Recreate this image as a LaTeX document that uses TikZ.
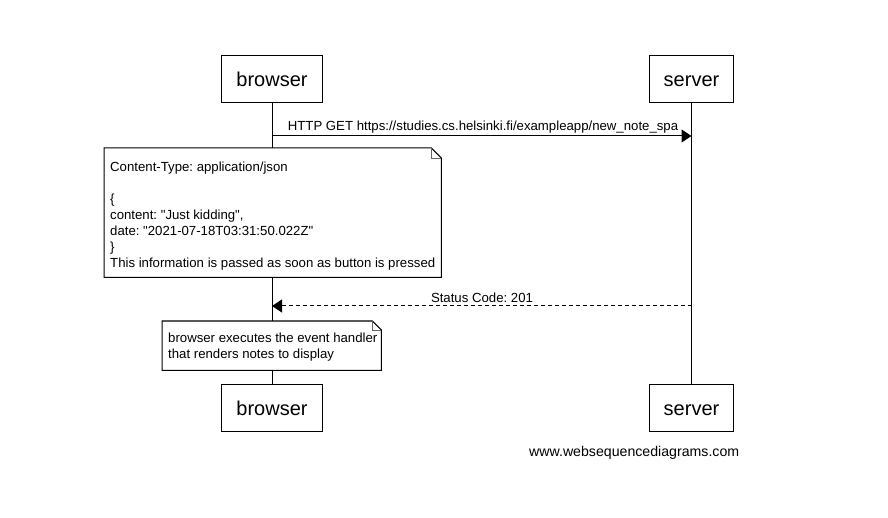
\documentclass[tikz,border=0pt]{standalone}
\usepackage{fontspec}
\setmainfont{Liberation Sans}
\usetikzlibrary{arrows.meta}
\frenchspacing
\begin{document}
\begin{tikzpicture}[x=1pt,y=-1pt,
  actor/.style={draw, line width=1pt, minimum width=0pt, minimum height=47pt,
    inner xsep=14.5pt, inner ysep=0pt, text height=14.5pt, text depth=0pt,
    font=\fontsize{20}{24}\selectfont},
  life/.style={line width=1pt},
  msg/.style={line width=1pt, -{Triangle[length=10pt,width=13pt]}},
  reply/.style={msg, dash pattern=on 4pt off 3pt},
  lbl/.style={anchor=base, inner sep=0pt, font=\fontsize{13.2}{16}\selectfont},
  notebox/.style={fill=white, draw=none, anchor=north west, inner sep=0pt},
  noteline/.style={line width=1pt, line join=miter},
  notetext/.style={anchor=base west, inner sep=0pt, align=left,
    font=\fontsize{13.2}{16}\selectfont},
  wmark/.style={anchor=base west, inner sep=0pt, font=\fontsize{14.15}{17}\selectfont}
]
\useasboundingbox (0,0) rectangle (888,518);
\fill[white] (0,0) rectangle (888,518);

% actors
\node[actor] (bt) at (272,79.5) {browser};
\node[actor] (st) at (691.5,79.5) {server};
\node[actor] (bb) at (272,408) {browser};
\node[actor] (sb) at (691.5,408) {server};

% lifelines
\draw[life] (bt) -- (bb);
\draw[life] (st) -- (sb);

% message 1
\coordinate (y1) at (0,136);
\draw[msg] (bt |- y1) -- (st |- y1);
\node[lbl] (l1) at (483,131) {HTTP GET https://studies.cs.helsinki.fi/exampleapp/new\_note\_spa};

% note 1
\node[notebox, minimum width=337pt, minimum height=129pt] (n1) at (104,148) {};
\draw[noteline] (n1.north west) -- ([xshift=-10pt]n1.north east) -- ([yshift=-10pt]n1.north east)
  -- (n1.south east) -- (n1.south west) -- cycle;
\draw[line width=0.8pt, draw=black!60] ([xshift=-10pt]n1.north east) -- ([xshift=-10pt,yshift=-10pt]n1.north east) -- ([yshift=-10pt]n1.north east);
\node[notetext] (n1t) at (110,171.5) {\vtop{\hbox{Content-Type: application/json}\hbox{}\hbox{\{}\hbox{content: \textquotedbl Just kidding\textquotedbl,}\hbox{date: \textquotedbl 2021-07-18T03:31:50.022Z\textquotedbl}\hbox{\}}\hbox{This information is passed as soon as button is pressed}}};

% message 2
\coordinate (y2) at (0,306);
\draw[reply] (st |- y2) -- (bt |- y2);
\node[lbl] (l2) at (482,303) {Status Code: 201};

% note 2
\node[notebox, minimum width=219pt, minimum height=49pt] (n2) at (162,321) {};
\draw[noteline] (n2.north west) -- ([xshift=-9pt]n2.north east) -- ([yshift=-9pt]n2.north east)
  -- (n2.south east) -- (n2.south west) -- cycle;
\draw[line width=0.8pt, draw=black!60] ([xshift=-9pt]n2.north east) -- ([xshift=-9pt,yshift=-9pt]n2.north east) -- ([yshift=-9pt]n2.north east);
\node[notetext] (n2t) at (168,342.5) {\vtop{\hbox{browser executes the event handler}\hbox{that renders notes to display}}};

% watermark
\node[wmark] (wm) at (529,456) {www.websequencediagrams.com};
\end{tikzpicture}
\end{document}
